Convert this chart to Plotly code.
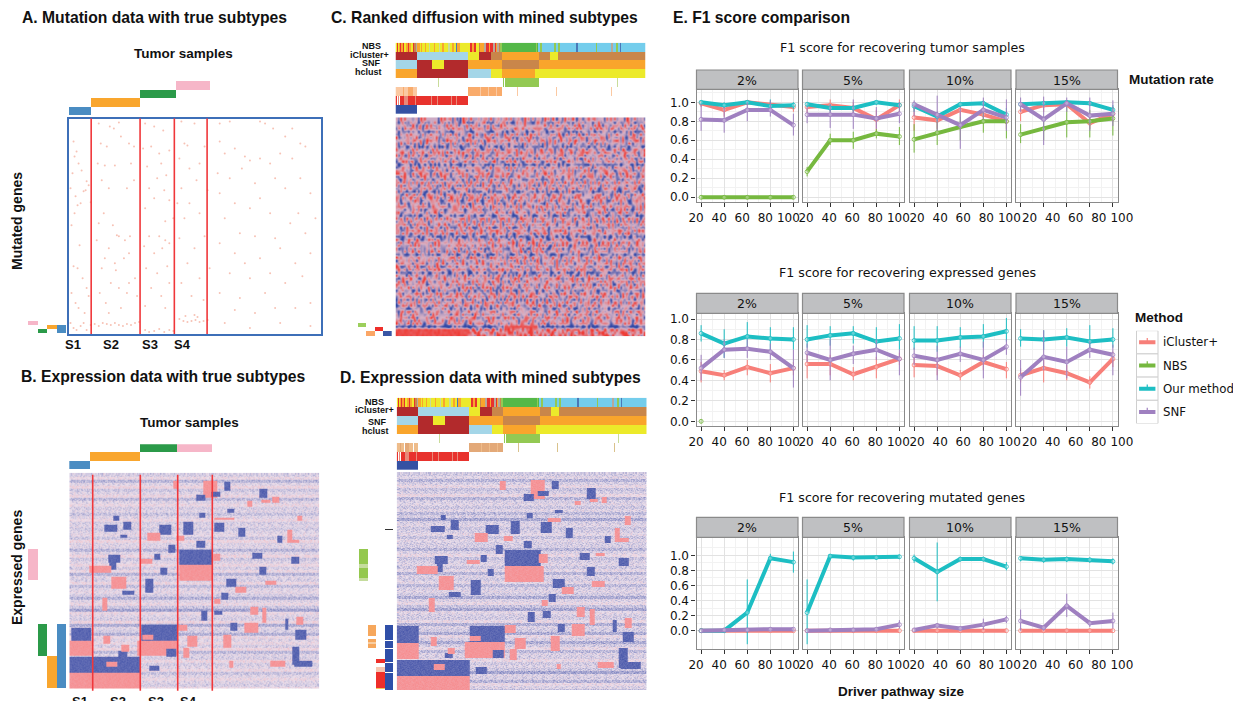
import numpy as np
import plotly.graph_objects as go

W, H = 1233, 701
RATES = ["2%", "5%", "10%", "15%"]
SIZES = [20, 40, 60, 80, 100]
METHODS = ["iCluster+", "NBS", "Our method", "SNF"]
METHOD_COLORS = ["#f77f79", "#76b83f", "#1dbec3", "#9f80c0"]

# ---------- panel E values: [2%, 5%, 10%, 15%] each with 5 driver sizes
tumor_icluster = [[.99,.92,1.0,.97,.95],[.95,.97,.94,.82,.97],[.84,.81,.92,.87,.80],[.90,.97,.98,.78,.88]]
tumor_icluster_lo = [[.95,.85,.97,.92,.9],[.88,.90,.85,.68,.90],[.70,.72,.85,.80,.72],[.80,.90,.95,.72,.80]]
tumor_icluster_hi = [[1.0,.98,1.01,1.0,.99],[1.0,1.03,1.0,.92,1.03],[.95,.90,.98,.95,.88],[1.0,1.02,1.01,.88,.95]]
tumor_nbs = [[0,0,0,0,0],[.27,.60,.60,.67,.64],[.61,.68,.74,.80,.80],[.66,.72,.79,.80,.83]]
tumor_nbs_lo = [[-.02,-.02,-.02,-.02,-.02],[.22,.55,.51,.62,.55],[.47,.55,.60,.68,.62],[.57,.60,.63,.63,.65]]
tumor_nbs_hi = [[.02,.02,.02,.02,.02],[.32,.67,.69,.72,.74],[.77,.80,.85,.90,.90],[.77,.85,.95,.92,.95]]
tumor_ours = [[1.0,.97,1.0,.96,.97],[.98,.94,.94,1.0,.97],[.96,.85,.98,.99,.87],[.98,.99,1.0,.99,.92]]
tumor_ours_lo = [[.97,.94,.98,.90,.93],[.95,.90,.90,.97,.93],[.90,.80,.95,.96,.80],[.95,.96,.98,.96,.87]]
tumor_ours_hi = [[1.02,1.0,1.02,1.03,1.0],[1.0,.98,.97,1.02,1.0],[1.0,.9,1.0,1.02,.94],[1.0,1.01,1.01,1.01,.97]]
tumor_snf = [[.82,.81,.92,.92,.76],[.87,.87,.87,.83,.88],[.98,.87,.76,.92,.84],[.98,.82,.99,.86,.88]]
tumor_snf_lo = [[.70,.68,.80,.85,.65],[.78,.73,.72,.72,.78],[.85,.70,.51,.82,.70],[.90,.55,.90,.70,.75]]
tumor_snf_hi = [[.98,.95,1.0,1.02,.88],[.95,.98,1.03,.95,1.0],[1.02,1.07,.95,1.05,1.03],[1.05,1.06,1.05,1.05,1.02]]

expr_icluster = [[.49,.45,.53,.47,.52],[.56,.56,.46,.53,.61],[.55,.54,.45,.58,.51],[.45,.52,.47,.38,.61]]
expr_icluster_lo = [[.38,.40,.45,.38,.45],[.42,.45,.40,.42,.55],[.43,.45,.40,.50,.42],[.38,.38,.40,.32,.53]]
expr_icluster_hi = [[.58,.50,.60,.56,.58],[.68,.65,.53,.63,.67],[.65,.63,.50,.65,.58],[.52,.60,.55,.44,.68]]
expr_nbs = [[0,None,None,None,None],[None]*5,[None]*5,[None]*5]
expr_nbs_lo = [[-.02,None,None,None,None],[None]*5,[None]*5,[None]*5]
expr_nbs_hi = [[.02,None,None,None,None],[None]*5,[None]*5,[None]*5]
expr_ours = [[.86,.76,.83,.81,.80],[.80,.84,.86,.78,.81],[.79,.79,.82,.83,.88],[.81,.80,.82,.78,.80]]
expr_ours_lo = [[.78,.62,.70,.70,.70],[.72,.74,.76,.70,.70],[.70,.68,.72,.72,.78],[.73,.70,.73,.70,.72]]
expr_ours_hi = [[.94,.90,.97,.92,.92],[.94,.93,.93,.92,.95],[.93,.93,.92,.95,1.01],[.90,.89,.91,.94,.91]]
expr_snf = [[.52,.70,.71,.68,.52],[.67,.60,.66,.70,.61],[.64,.60,.66,.60,.73],[.43,.63,.58,.70,.65]]
expr_snf_lo = [[.40,.62,.62,.60,.33],[.58,.40,.56,.60,.45],[.55,.40,.58,.42,.65],[.25,.50,.42,.62,.45]]
expr_snf_hi = [[.65,.80,.80,.76,.70],[.76,.80,.74,.80,.70],[.72,.74,.73,.78,.80],[.60,.89,.73,.78,.75]]

mut_icluster = [[0,0,0,0,0],[0,0,0,0,0],[0,0,0,0,0],[0,0,0,0,0]]
mut_nbs = [[0,None,None,None,None],[None]*5,[None]*5,[None]*5]
mut_ours = [[0,0,.24,.96,.91],[.24,.99,.97,.97,.98],[.96,.78,.95,.95,.85],[.96,.94,.95,.94,.92]]
mut_ours_lo = [[0,0,-.18,.90,.77],[-.18,.97,.93,.94,.95],[.90,.39,.92,.92,.80],[.92,.90,.91,.90,.88]]
mut_ours_hi = [[0,0,.68,1.02,1.05],[.68,1.01,1.0,1.0,1.01],[1.01,1.17,.98,.98,.91],[.99,.97,.98,.97,.96]]
mut_snf = [[0,.01,.01,.02,.02],[0,.01,.01,.02,.08],[.01,.07,.03,.08,.15],[.13,.04,.33,.10,.13]]
mut_snf_lo = [[0,0,0,0,0],[0,0,0,0,.03],[0,.03,.01,.01,.10],[0,0,.18,.05,.03]]
mut_snf_hi = [[.02,.02,.02,.04,.04],[.02,.02,.02,.03,.14],[.03,.10,.05,.16,.20],[.28,.07,.49,.14,.24]]

# ---------- subtype annotation bars (sample ranks 0..250, gene ranks)
A_subtype_edges = [0, 22, 70, 106, 140]
B_subtype_edges = [0, 21, 71, 108, 143]
A_bar_rows = [3, 2, 1, 0]
B_bar_rows = [2, 1, 0, 0]
SUBTYPE_COLORS = ["#4a8cc2", "#f9a62e", "#2b9a49", "#f6b6c8"]
A_red_lines = [22.5, 71, 105, 137.5]
B_red_lines = [23.4, 71, 108.4, 143]

# gene-rank segments: (column, start, end, colour)
A_left = [(0,202,206,"#f6b6c8"),(1,210,214,"#2b9a49"),(2,206,210,"#f9a62e"),(3,206,214,"#4a8cc2")]
B_left = [(0,76,107,"#f6b6c8"),(1,151,183,"#2b9a49"),(2,183,215,"#f9a62e"),(3,151,215,"#4a8cc2")]
C_left = [(0,68.5,70,"#9ccf5c"),(1,71.3,73,"#fba666"),(2,70,71.3,"#ee2f2a"),(3,71.3,73,"#3a56a5")]
D_left = [(0,77,92,"#94c84e"),(0,92,96,"#c5dc9d"),(0,96,106,"#94c84e"),(0,106,109,"#c5dc9d"),
          (1,153,164,"#f6a75c"),(1,167,170,"#f6a75c"),(1,170,172,"#f8cda0"),(1,172,176,"#f6a75c"),
          (2,187,191,"#ee2f2a"),(2,195,200,"#f7c6b0"),(2,200,216,"#ee2f2a"),(2,216,217,"#f2c75c"),
          (3,57,58,"#333333"),(3,153,168,"#2f4fa8"),(3,169,176,"#2f4fa8"),(3,177,190,"#2f4fa8"),
          (3,191,200,"#2f4fa8"),(3,201,218,"#2f4fa8")]

# ---------- sample annotation tracks, (end rank, colour name)
CATS = {"none": None, "R": "#e8322d", "O": "#f9a52c", "Y": "#ecea2a", "DR": "#b22a2c", "LB": "#a4d6e8",
        "BR": "#c9864a", "G": "#54b848", "SB": "#74cdec", "DB": "#4a78b8", "GY": "#b7a99a", "PL": "#c9dc9a",
        "LG": "#93c953", "PE": "#fbc9a2", "PO": "#f9ab6b", "PK": "#e8887a", "WH": "#ffffff", "B": "#3551a3",
        "TA": "#eebc8a", "TD": "#e3a978", "SA": "#d9c28c"}
CAT_NAMES = list(CATS)[1:]
track_nbs = [(1,"Y"),(2,"R"),(3,"Y"),(4,"O"),(5,"R"),(7,"O"),(8,"R"),(10,"Y"),(12,"O"),(13,"R"),(15,"O"),(17,"Y"),
             (18,"R"),(20,"BR"),(21,"GY"),(24,"O"),(25,"Y"),(26,"O"),(29,"Y"),(30,"O"),(33,"Y"),(34,"PL"),(38,"Y"),
             (39,"O"),(43,"Y"),(44,"PL"),(46,"Y"),(48,"O"),(52,"Y"),(54,"PL"),(56,"Y"),(58,"O"),(60,"Y"),(61,"DB"),
             (64,"O"),(72,"Y"),(74,"Y"),(76,"R"),(78,"O"),(80,"R"),(83,"Y"),(84,"BR"),(88,"O"),(90,"GY"),(93,"R"),
             (94,"O"),(97,"R"),(99,"GY"),(100,"R"),(101,"O"),(103,"GY"),(104,"BR"),(106,"LG"),(140,"G"),(141,"LG"),
             (142,"G"),(144,"SB"),(146,"LG"),(158,"SB"),(160,"LG"),(162,"SB"),(164,"LG"),(180,"SB"),(182,"DB"),
             (200,"SB"),(201,"LG"),(215,"SB"),(217,"GY"),(220,"SB"),(222,"LG"),(224,"SB"),(225,"DB"),(250,"SB")]
track_icluster = [(21,"DR"),(72,"LB"),(83,"Y"),(95,"DR"),(106,"BR"),(143,"O"),(154,"BR"),(162,"Y"),(250,"BR")]
track_snf = [(21,"LB"),(36,"DR"),(48,"Y"),(72,"DR"),(106,"O"),(143,"BR"),(250,"O")]
track_hclust = [(21,"O"),(72,"DR"),(95,"LB"),(106,"Y"),(139,"O"),(250,"Y")]
track_green = [(42,"none"),(43,"PL"),(107,"none"),(108,"LG"),(109,"none"),(143,"LG"),(221,"none"),(222,"PL"),(250,"none")]
track_orange_c = [(7,"PE"),(8,"PO"),(12,"PE"),(17,"PO"),(21,"PE"),(72,"none"),(84,"PO"),(85,"PE"),(92,"PO"),(93,"PE"),
                  (100,"PO"),(101,"PE"),(106,"PO"),(121,"none"),(122,"PE"),(160,"none"),(161,"PE"),(215,"none"),(216,"PE"),(250,"none")]
track_orange_d = [(3,"TA"),(4,"TD"),(7,"TA"),(8,"WH"),(12,"TD"),(16,"TA"),(17,"WH"),(21,"TA"),(72,"none"),(84,"TD"),
                  (85,"TA"),(92,"TD"),(93,"TA"),(100,"TD"),(101,"TA"),(106,"TD"),(121,"none"),(122,"SA"),(160,"none"),
                  (161,"SA"),(217,"none"),(218,"SA"),(250,"none")]
track_red = [(1,"R"),(2,"WH"),(3,"PK"),(4,"WH"),(8,"R"),(12,"PK"),(19,"R"),(20,"PK"),(35,"R"),(36,"PK"),(41,"R"),(42,"PK"),
             (55,"R"),(56,"PK"),(60,"R"),(61,"PK"),(72,"R"),(250,"none")]
track_blue = [(21,"B"),(250,"none")]

# ---------- panel A: point mutations (sample rank, gene rank)
mut_samples = [5,8,6,10,4,13,18,2,7,15,20,9,17,22,12,6,3,11,5,9,14,18,3,7,20,10,16,30,41,45,50,32,38,52,60,65,29,36,46,62,33,40,65,58,35,44,48,50,56,61,30,28,36,40,46,60,55,33,42,50,60,31,66,37,52,40,58,47,68,76,85,94,74,82,90,100,78,92,88,97,80,95,85,100,76,96,104,80,90,96,100,75,85,93,77,88,98,82,92,100,76,96,112,125,115,118,135,110,130,120,112,127,138,108,120,115,130,110,135,125,118,112,130,140,122,134,150,160,190,195,203,222,215,230,235,150,155,165,175,180,190,200,210,222,148,160,172,185,205,215,230,240,150,165,180,190,200,228,245,155,170,185,205,220,235,150,165,175,190,210,225,240,160,180,200,215,232,150,170,185,205,225,240,165,195,155,210,240,180,2,5,8,12,15,18,22,26,30,34,38,42,46,50,54,58,62,66,70,76,80,85,90,95,100,104,110,114,118,122,126,130,134,138,116,125,128]
mut_genes = [23,33,38,45,55,52,63,70,78,73,67,87,72,84,85,95,107,127,148,150,160,170,175,185,178,190,195,5,8,10,4,25,28,18,25,28,45,47,47,45,62,70,62,70,95,107,117,118,122,118,105,122,140,130,145,135,140,150,165,170,165,175,160,185,190,195,175,152,178,5,8,12,30,28,35,32,48,45,60,57,70,72,80,82,90,103,100,118,118,122,125,128,135,130,150,155,148,170,178,165,188,190,3,5,25,27,28,40,45,50,70,62,72,85,85,100,95,120,118,130,145,165,160,150,178,182,5,3,3,5,10,10,18,25,28,23,35,30,38,42,40,45,35,40,55,60,50,65,60,70,60,75,75,85,90,80,95,95,100,100,115,118,120,105,115,125,135,145,140,130,145,135,155,160,155,165,158,175,180,195,190,190,185,192,175,205,205,208,210,205,210,212,208,205,212,207,206,208,205,206,207,205,207,208,206,207,205,204,212,214,213,211,214,212,213,201,203,204,203,202,204,203,202,198,197,199]

# ---------- heat maps: stripe level of each row band and hand-read modules
C_row_levels = [.1,-.2,.1,.2,-.5,.1,0,.2,-.1,-.6,.1,.2,0,-.1,.2,-.7,.1,0,.2,.1,-.3,.2,-.1,.1,-.6,.1,.2,0,-.2,.2,-.1,.1,-.5,.2,0,.1,
                -.2,.2,.1,-.7,0,.2,.1,-.2,.1,-.5,.2,0,.1,-.1,.2,-.6,0,.2,.1,-.1,.2,-.4,.1,.2,-.3,.2,.1,-.5,.2,0,.2,.1,.1,-1.1,.6,.6,.6]
B_row_levels = [-.2,.1,-.5,-.1,.2,-.3,-.1,.15,-.45,-.1,.1,-.2,-.1,-.35,-.1,.1,-.2,-.1,-.25,-.1,0,-.3,.2,-.1,-.1,-.5,-.1,.2,-.3,-.1,.15,-.2,.1,-.5,-.1,
                -.2,.15,-.4,-.1,0,-.2,-.55,-.1,.1,-.3,-.7,.1,-.1,-.2,.2,-.6,-.1,-.2,-.55,.1,-.1,.1,-.2,.2,-.45,-.1,-.2,.15,-.2,-.1,.15,-.35,-.1,.1,-.1,-.2,.1]
D_row_levels = [-.25,-.1,-.5,-.2,.05,-.35,-.2,.1,-.5,-.2,-.1,-.3,-.1,-.45,-.2,-.65,-.2,-.1,-.3,-.2,-.05,-.35,-.1,-.2,-.2,-.5,-.15,.05,-.35,-.2,-.1,-.3,-.05,-.5,-.15,
                -.25,-.05,-.45,-.2,-.1,-.25,-.6,-.15,.05,-.35,-.65,-.05,-.2,-.25,.05,-.55,-.15,-.25,-.6,.05,-.2,-.6,-.25,.05,-.45,-.15,-.2,.05,-.25,-.15,-.3,-.7,-.15,-.2,-.5,.05,-.15,-.4]
# (first sample, last sample, first gene, last gene, sign)
B_modules = [(1,21,154,167,-1),(0,22,167,182,1),(0,70,183,199,-1),(0,70,199,215,1),(71,107,151,167,-1),(67,107,167,182,1),(36,47,188,193,1),
 (72,83,161,166,1),(48,57,177,183,-1),(96,106,175,183,-1),(79,89,192,197,-1),(33,40,162,170,1),(51,59,171,178,1),(109,142,76,91,-1),(109,142,91,107,1),
 (143,150,80,87,1),(126,135,67,74,-1),(98,105,71,79,-1),(84,90,80,86,-1),(70,82,85,90,1),(90,97,94,101,-1),(38,50,81,89,-1),(39,46,89,96,-1),(19,41,92,99,1),
 (41,56,103,115,1),(75,83,105,119,-1),(52,64,117,121,-1),(32,37,124,137,1),(131,137,137,147,-1),(144,152,137,141,-1),(151,158,119,126,-1),(144,150,125,130,1),
 (156,166,105,113,-1),(165,176,113,119,1),(195,206,107,111,1),(189,196,93,101,-1),(221,229,83,90,-1),(182,192,79,85,-1),(207,212,62,69,-1),(217,222,56,67,1),
 (217,229,66,69,1),(168,175,54,63,-1),(144,154,49,58,-1),(227,232,42,47,1),(157,164,35,39,-1),(144,164,44,46,1),(113,123,48,61,-1),(129,135,39,44,-1),
 (89,101,51,61,-1),(77,90,59,67,1),(106,114,62,67,1),(34,47,51,58,-1),(53,61,48,56,-1),(43,49,42,47,-1),(50,57,61,64,-1),(133,147,7,24,1),(126,135,21,27,-1),
 (141,150,18,23,-1),(103,108,7,15,1),(154,160,8,17,-1),(189,197,15,24,-1),(202,209,23,29,1),(191,200,26,29,1),(177,182,27,33,1),(180,188,133,141,1),
 (192,196,134,149,1),(174,188,149,159,1),(160,167,149,157,-1),(153,161,161,174,1),(215,218,145,156,-1),(226,233,143,151,1),(225,236,156,166,-1),(117,127,162,173,1),
 (113,119,174,184,1),(108,117,151,157,1),(222,229,173,191,-1),(224,242,187,193,-1),(200,215,187,193,1),(159,163,187,194,1)]
D_modules = [(0,21,153,170,-1),(0,21,170,186,1),(0,72,187,203,-1),(0,72,203,218,1),(72,107,153,169,-1),(72,83,163,168,1),(67,107,169,185,1),(36,47,191,197,1),
 (95,106,177,185,-1),(78,89,194,201,-1),(47,55,180,185,-1),(33,39,164,173,1),(50,57,175,181,1),(107,143,77,93,-1),(107,146,93,109,1),(141,150,81,90,1),(126,134,68,75,-1),
 (98,105,72,81,-1),(83,89,82,89,-1),(69,82,87,91,1),(90,96,96,103,-1),(37,50,83,91,-1),(39,45,91,99,-1),(19,40,93,101,1),(41,56,103,117,1),(73,83,107,122,-1),(51,63,119,124,-1),
 (31,37,125,139,1),(130,137,139,149,-1),(145,153,138,145,-1),(151,158,121,129,-1),(144,150,127,133,1),(155,167,106,115,-1),(164,176,114,121,1),(194,207,108,114,1),(189,197,94,103,-1),
 (221,231,85,93,-1),(182,192,80,87,-1),(198,207,80,83,1),(207,213,63,70,-1),(217,222,55,69,1),(217,231,65,69,1),(168,175,55,65,-1),(143,154,49,60,-1),(227,233,43,52,1),
 (113,122,48,61,-1),(33,47,53,59,-1),(53,61,47,57,-1),(43,48,42,47,-1),(49,55,62,66,-1),(88,101,52,61,-1),(77,90,60,69,1),(106,115,63,68,1),(129,135,40,45,-1),(157,165,37,40,-1),
 (150,163,45,49,1),(179,187,134,144,1),(192,197,136,152,1),(174,187,151,163,1),(160,167,151,159,-1),(153,162,163,178,1),(215,219,147,159,-1),(227,234,145,155,1),(225,236,159,169,-1),
 (117,128,165,176,1),(112,119,176,187,1),(107,118,152,160,1),(221,230,175,195,-1),(223,243,189,196,-1),(200,216,189,195,1),(159,163,191,196,1),(133,147,7,26,1),(126,136,21,28,-1),
 (140,151,18,23,-1),(102,108,8,17,1),(154,161,8,16,-1),(189,198,15,26,-1),(204,209,24,30,1),(192,200,26,29,1),(177,183,28,32,1)]
C_modules = [(0,72,70,73,1),(108,142,69,70,1)]
# hand-typed speckle tile standing in for the unreadable cell-level noise
SPECKLE = ["3827150946283719504628173950482617395","9164027385916402738561940273859146027","2750394861725139486072513948627350194",
           "6193847205619384720591638472056913847","0482759163048275916304827591630482715","7351960482735196048273619048273519604",
           "4806213759480621375948160237594806213","1975384062197538406219753840621975384","5260719348526071934852607193485260719",
           "8639402715863940271586394027158639402","3014865297301486529730148652973014865","6728195034672819503467281950346728195",
           "2593076841259307684125930768412593076"]
SPECKLE_SHIFT = [11,3,27,8,19,34,1,23,14,30,6,17,36,9,25,2,21,12,33,5,28,16,31]

fig = go.Figure()
layout = dict()
axis_id = [0]
shapes, annots = [], []

def px(x): return x / W
def py(y): return 1 - y / H

def new_axes(x0, x1, y0, y1, xr, yr, **kw):
    axis_id[0] += 1
    n = axis_id[0]
    sx = "" if n == 1 else str(n)
    xa = dict(domain=[px(x0), px(x1)], range=xr, anchor="y" + sx, showgrid=False, zeroline=False, showticklabels=False, ticks="", fixedrange=True)
    ya = dict(domain=[py(y1), py(y0)], range=yr, anchor="x" + sx, showgrid=False, zeroline=False, showticklabels=False, ticks="", fixedrange=True)
    xa.update(kw.get("xkw", {})); ya.update(kw.get("ykw", {}))
    layout["xaxis" + sx] = xa
    layout["yaxis" + sx] = ya
    return "x" + sx, "y" + sx

def label(text, x, y, size=13, bold=False, anchor="center", family="Liberation Sans", angle=0):
    annots.append(dict(text=("<b>%s</b>" % text) if bold else text, x=px(x), y=py(y), xref="paper", yref="paper",
                       xanchor=anchor, yanchor="middle", showarrow=False, textangle=angle,
                       font=dict(family=family, size=size, color="#111")))

def track_codes(track):
    out = np.full(250, np.nan); s = 0
    for e, name in track:
        if name != "none":
            out[s:e] = CAT_NAMES.index(name)
        s = e
    return out

def add_tracks(x0, x1, y0, y1, rows):
    xa, ya = new_axes(x0, x1, y0, y1, [0, 250], [len(rows), 0])
    z = np.array([track_codes(t) for t in rows])
    n = len(CAT_NAMES)
    scale = []
    for i, name in enumerate(CAT_NAMES):
        scale += [[i / n, CATS[name]], [(i + 1) / n, CATS[name]]]
    fig.add_trace(go.Heatmap(z=z, x=np.arange(250) + .5, y=np.arange(len(rows)) + .5, zmin=-.5, zmax=n - .5,
                             colorscale=scale, showscale=False, hoverinfo="skip", xaxis=xa, yaxis=ya))

def speckle_at(r, j):
    a = SPECKLE[r % 13]
    b = SPECKLE[(r * 3 + 7) % 13]
    d1 = int(a[(j + SPECKLE_SHIFT[r % 23]) % 37])
    d2 = int(b[:31][(j + SPECKLE_SHIFT[(r + 9) % 23]) % 31])
    return (d1 + d2 - 9) / 9

def expr_matrix(levels, modules, n_rows, step, amp, module_amp, gain, band):
    cols = list(range(0, 250, step))
    z = np.zeros((n_rows, len(cols)))
    for r in range(n_rows):
        lev = gain * levels[min(r // band, len(levels) - 1)]
        for j, c in enumerate(cols):
            z[r, j] = lev + amp * speckle_at(r, j)
    for a, b, r0, r1, sign in modules:
        for r in range(int(r0), min(int(r1), n_rows)):
            for j, c in enumerate(cols):
                if a <= c < b:
                    z[r, j] = sign * .85 + module_amp * speckle_at(r, j)
    return np.array(cols) + step / 2, z

EXPR_SCALE = [[0, "#4252a8"], [.5, "#ebe0ec"], [1, "#f7888a"]]
C_SCALE = [[0, "#3149a8"], [.5, "#d8b2c6"], [1, "#ef3b34"]]

def add_heat(x0, x1, y0, y1, levels, modules, n_rows, step, amp, module_amp, scale, gain, band):
    xa, ya = new_axes(x0, x1, y0, y1, [0, 250], [n_rows, 0])
    xs, z = expr_matrix(levels, modules, n_rows, step, amp, module_amp, gain, band)
    fig.add_trace(go.Heatmap(z=z, x=xs, y=np.arange(n_rows) + .5, zmin=-1, zmax=1, zsmooth="best",
                             colorscale=scale, showscale=False, hoverinfo="skip", xaxis=xa, yaxis=ya))
    return xa, ya

def add_top_bars(x0, x1, y0, y1, edges, rows):
    xa, ya = new_axes(x0, x1, y0, y1, [0, 250], [max(rows) + .5, -.5])
    for i, c in enumerate(SUBTYPE_COLORS):
        fig.add_trace(go.Bar(y=[rows[i]], x=[edges[i + 1] - edges[i]], base=[edges[i]], orientation="h", width=1,
                             marker=dict(color=c, line=dict(width=0)), showlegend=False, hoverinfo="skip", xaxis=xa, yaxis=ya))

def add_left_bars(x0, x1, y0, y1, n_rows, segments):
    xa, ya = new_axes(x0, x1, y0, y1, [-.5, 3.5], [n_rows, 0])
    for col, a, b, c in segments:
        fig.add_trace(go.Bar(x=[col], y=[b - a], base=[a], width=1, marker=dict(color=c, line=dict(width=0)),
                             showlegend=False, hoverinfo="skip", xaxis=xa, yaxis=ya))

def red_lines(xa, ya, values, y_top=0, y_bot=1):
    for v in values:
        shapes.append(dict(type="line", xref=xa, yref=ya + " domain", x0=v, x1=v, y0=y_top, y1=y_bot,
                           line=dict(color="#f0373a", width=1.6)))

# ---------- Panel A
xa, ya = new_axes(68.5, 320.5, 118.5, 334, [0, 250], [216, 0],
                  xkw=dict(showline=True, mirror=True, linecolor="#3d6fb8", linewidth=1.5),
                  ykw=dict(showline=True, mirror=True, linecolor="#3d6fb8", linewidth=1.5))
fig.add_trace(go.Scatter(x=mut_samples, y=mut_genes, mode="markers", marker=dict(color="#f4ad9c", size=2, opacity=.75),
                         showlegend=False, hoverinfo="skip", xaxis=xa, yaxis=ya))
red_lines(xa, ya, A_red_lines)
add_top_bars(68.5, 320.5, 81, 115, A_subtype_edges, A_bar_rows)
add_left_bars(28, 66.3, 118.5, 334, 216, A_left)

# ---------- Panel B
xa, ya = add_heat(69.3, 319.3, 472.7, 688.7, B_row_levels, B_modules, 216, 1, .3, .12, EXPR_SCALE, .6, 3)
red_lines(xa, ya, B_red_lines, y_top=-.01, y_bot=.99)
add_top_bars(69.3, 319.3, 444.3, 469.7, B_subtype_edges, B_bar_rows)
add_left_bars(28, 66.3, 472.7, 688.7, 216, B_left)

# ---------- Panel C
TRACKS_C = [track_nbs, track_icluster, track_snf, track_hclust, track_green, track_orange_c, track_red, track_blue]
TRACKS_D = [track_nbs, track_icluster, track_snf, track_hclust, track_green, track_orange_d, track_red, track_blue]
add_tracks(395.5, 645.5, 42.7, 114, TRACKS_C)
add_heat(395.5, 645.5, 117.3, 336.3, C_row_levels, C_modules, 73, 2, 1.3, .2, C_SCALE, .8, 1)
add_left_bars(358, 391.7, 117.3, 336.3, 73, C_left)

# ---------- Panel D
add_tracks(396.7, 646.7, 397.7, 470, TRACKS_D)
add_heat(396.7, 646.7, 472, 690, D_row_levels, D_modules, 218, 1, .3, .12, EXPR_SCALE, .6, 3)
add_left_bars(359, 393.3, 472, 690, 218, D_left)

# ---------- Panel E
METRICS = [
    dict(vals=[tumor_icluster, tumor_nbs, tumor_ours, tumor_snf], lo=[tumor_icluster_lo, tumor_nbs_lo, tumor_ours_lo, tumor_snf_lo],
         hi=[tumor_icluster_hi, tumor_nbs_hi, tumor_ours_hi, tumor_snf_hi], strip=(70, 89.3), bottom=202.3, yr=[-.053, 1.137]),
    dict(vals=[expr_icluster, expr_nbs, expr_ours, expr_snf], lo=[expr_icluster_lo, expr_nbs_lo, expr_ours_lo, expr_snf_lo],
         hi=[expr_icluster_hi, expr_nbs_hi, expr_ours_hi, expr_snf_hi], strip=(293.3, 313.3), bottom=426, yr=[-.046, 1.056]),
    dict(vals=[mut_icluster, mut_nbs, mut_ours, mut_snf], lo=[mut_icluster, mut_nbs, mut_ours_lo, mut_snf_lo],
         hi=[mut_icluster, mut_nbs, mut_ours_hi, mut_snf_hi], strip=(517.3, 537.3), bottom=649, yr=[-.243, 1.239]),
]
PANEL_X = [(696.5, 798), (802.5, 904), (909.5, 1011), (1016, 1117.5)]
LABEL_SHIFT = [-5, -1, 3, 9]
TICK_FONT = dict(family="DejaVu Sans", size=12, color="#111")
GRID = "#e2e2e2"

for m_i, m in enumerate(METRICS):
    for p_i, (x0, x1) in enumerate(PANEL_X):
        xkw = dict(showline=True, mirror=True, linecolor="#8a8a8a", linewidth=1.2, showgrid=True, gridcolor=GRID, gridwidth=1.2,
                   tickmode="array", tickvals=SIZES, ticktext=[str(s) for s in SIZES], showticklabels=True, ticks="outside",
                   ticklen=4, tickwidth=1, tickcolor="#333", tickfont=TICK_FONT, ticklabelshift=LABEL_SHIFT[p_i],
                   minor=dict(showgrid=True, gridcolor="#f2f2f2", gridwidth=1, tickvals=[30, 50, 70, 90]))
        ykw = dict(showline=True, mirror=True, linecolor="#8a8a8a", linewidth=1.2, showgrid=True, gridcolor=GRID, gridwidth=1.2,
                   tickmode="array", tickvals=[0, .2, .4, .6, .8, 1.0], ticktext=["0.0", "0.2", "0.4", "0.6", "0.8", "1.0"],
                   showticklabels=p_i == 0, ticks="outside" if p_i == 0 else "", ticklen=4, tickwidth=1, tickcolor="#333", tickfont=TICK_FONT,
                   minor=dict(showgrid=True, gridcolor="#f2f2f2", gridwidth=1, tickvals=[.1, .3, .5, .7, .9, 1.1]))
        xa, ya = new_axes(x0, x1, m["strip"][1], m["bottom"], [16, 104], m["yr"], xkw=xkw, ykw=ykw)
        shapes.append(dict(type="rect", xref="paper", yref="paper", x0=px(x0), x1=px(x1), y0=py(m["strip"][0]), y1=py(m["strip"][1]),
                           fillcolor="#bfc0c2", line=dict(color="#8a8a8a", width=1.2)))
        label(RATES[p_i], (x0 + x1) / 2, (m["strip"][0] + m["strip"][1]) / 2 + .5, size=12.5, family="DejaVu Sans")
        for k, name in enumerate(METHODS):
            v = m["vals"][k][p_i]
            lo = m["lo"][k][p_i]
            hi = m["hi"][k][p_i]
            plus = [None if a is None else b - a for a, b in zip(v, hi)]
            minus = [None if a is None else a - b for a, b in zip(v, lo)]
            fig.add_trace(go.Scatter(
                x=SIZES, y=v, mode="lines+markers", name=name, showlegend=False,
                line=dict(color=METHOD_COLORS[k], width=4),
                marker=dict(symbol="circle", size=4, color="rgba(255,255,255,.3)", line=dict(color=METHOD_COLORS[k], width=.8)),
                error_y=dict(type="data", symmetric=False, array=plus, arrayminus=minus, thickness=1, width=0, color=METHOD_COLORS[k]),
                hoverinfo="skip", xaxis=xa, yaxis=ya))

# ---------- legend keys
LEGEND_KEY_X = [.12, .5, .88]
LEGEND_KEY_DROP = [0, .18, 0]
xa, ya = new_axes(1136.5, 1158, 330.7, 423.5, [0, 1], [4, 0],
                  xkw=dict(showline=False), ykw=dict(showline=False))
for i in range(4):
    shapes.append(dict(type="rect", xref=xa + " domain", yref=ya, x0=0, x1=1, y0=i, y1=i + 1,
                       fillcolor="white", line=dict(color="#cfcfcf", width=1), layer="below"))
for i, name in enumerate(METHODS):
    fig.add_trace(go.Scatter(x=LEGEND_KEY_X, y=[i + .5] * 3, mode="lines", showlegend=False, hoverinfo="skip", name=name,
                             line=dict(color=METHOD_COLORS[i], width=4),
                             error_y=dict(type="data", symmetric=False, array=[0, 0, 0], arrayminus=LEGEND_KEY_DROP, thickness=1.2, width=0, color=METHOD_COLORS[i]),
                             xaxis=xa, yaxis=ya))
    label(name, 1161, 342.3 + 23.2 * i, 11.8, anchor="left", family="DejaVu Sans")

# ---------- text
label("A. Mutation data with true subtypes", 20, 17, 15.7, True, "left")
label("C. Ranked diffusion with mined subtypes", 329, 17, 15.7, True, "left")
label("E. F1 score comparison", 671, 17, 15.7, True, "left")
label("B. Expression data with true subtypes", 19, 376, 15.7, True, "left")
label("D. Expression data with mined subtypes", 338, 378, 15.7, True, "left")
label("Tumor samples", 183.5, 54, 13.5, True)
label("Tumor samples", 190, 422, 13.5, True)
label("Mutated genes", 17, 221, 14, True, angle=-90)
label("Expressed genes", 17, 568, 14, True, angle=-90)
for t, x in zip(["S1", "S2", "S3", "S4"], [73, 111, 150, 182.5]):
    label(t, x, 344, 13, True)
for t, x in zip(["S1", "S2", "S3", "S4"], [80, 118, 156, 188]):
    label(t, x, 701, 13, True)
for t, x, y in zip(["NBS", "iCluster+", "SNF", "hclust"], [371, 369, 371, 368], [46, 55, 63.5, 72.3]):
    label(t, x, y, 9, True)
for t, x, y in zip(["NBS", "iCluster+", "SNF", "hclust"], [374, 374, 377, 375], [401.7, 410, 421.7, 431]):
    label(t, x, y, 9, True)
label("F1 score for recovering tumor samples", 902, 47, 12.65, family="DejaVu Sans")
label("F1 score for recovering expressed genes", 908, 272, 12.65, family="DejaVu Sans")
label("F1 score for recovering mutated genes", 902, 498, 12.65, family="DejaVu Sans")
label("Mutation rate", 1127, 79, 13.5, True, "left")
label("Method", 1133, 317, 13.5, True, "left")
label("Driver pathway size", 901, 691, 13.5, True)

fig.update_layout(
    **layout, width=W, height=H, margin=dict(l=0, r=0, t=0, b=0, autoexpand=False), paper_bgcolor="white", plot_bgcolor="white",
    barmode="overlay", bargap=0, shapes=shapes, annotations=annots, showlegend=False,
)
fig.write_html("out.html", config=dict(displayModeBar=False),
               post_script="document.body.style.margin='0';document.body.style.overflow='hidden';")
